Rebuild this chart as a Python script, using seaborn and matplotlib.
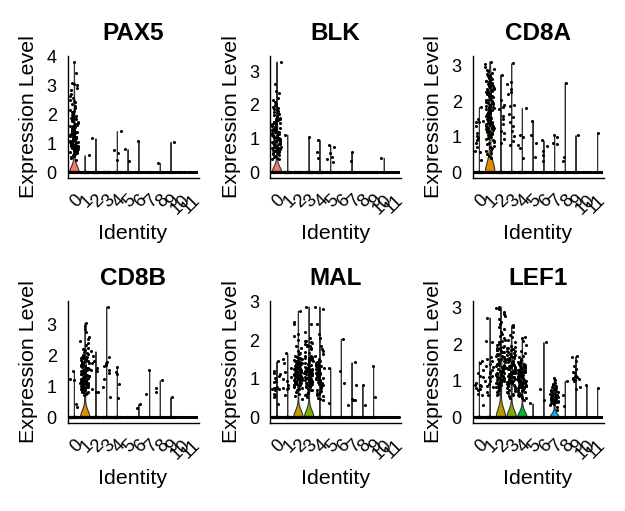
import numpy as np
import pandas as pd
import matplotlib
matplotlib.use("Agg")
import matplotlib.pyplot as plt
import seaborn as sns

np.random.seed(3)

clusters = [str(i) for i in range(12)]
cluster_colors = ["#F8766D", "#DE8C00", "#B79F00", "#7CAE00", "#00BA38", "#00C08B",
                  "#00BFC4", "#00B4F0", "#619CFF", "#C77CFF", "#F564E3", "#FF64B0"]
n_cells = [300, 280, 280, 280, 300, 150, 140, 130, 110, 100, 60, 40]
genes = ["PAX5", "BLK", "CD8A", "CD8B", "MAL", "LEF1"]

# non-zero expression values per cluster (remaining cells of the cluster are 0)
PAX5 = [
    [3.81, 3.40, 3.09, 3.05, 3.00, 2.91, 2.84, 2.70, 2.63, 2.57, 2.50, 2.46, 2.41, 2.36, 2.29, 2.23,
     2.16, 2.12, 2.07, 2.02, 1.97, 1.94,
     1.91, 1.88, 1.86, 1.83, 1.81, 1.78, 1.76, 1.73, 1.71, 1.68, 1.66, 1.63, 1.61, 1.59, 1.57, 1.55,
     1.53, 1.51, 1.49, 1.47, 1.46, 1.44, 1.42, 1.40, 1.38, 1.37, 1.35, 1.33, 1.31, 1.30, 1.28, 1.26,
     1.25, 1.23, 1.21, 1.20, 1.18, 1.17, 1.15, 1.14, 1.12, 1.11, 1.09, 1.08, 1.06, 1.05, 1.03, 1.02,
     1.00, 1.36, 1.22, 1.48, 1.13, 1.29, 1.07,
     0.99, 0.97, 0.96, 0.94, 0.93, 0.91, 0.90, 0.88, 0.86, 0.85, 0.83, 0.81, 0.79, 0.77, 0.75, 0.73,
     0.71, 0.68, 0.66, 0.63, 0.60, 0.57, 0.53, 0.49, 0.42, 0.92, 0.87, 0.82, 0.78, 0.70, 0.64],
    [0.59], [1.18], [], [1.42, 0.78, 0.67, 0.42], [0.80, 0.39], [1.08], [], [0.33], [1.05], [], [],
]
BLK = [
    [3.28, 2.62, 2.40, 2.34, 2.21, 2.15, 2.08, 2.03, 1.99, 1.96, 1.93,
     1.90, 1.87, 1.84, 1.81, 1.78, 1.75, 1.72, 1.70, 1.67, 1.64, 1.62, 1.59, 1.57, 1.54, 1.52, 1.50,
     1.48, 1.45, 1.43, 1.41, 1.39, 1.37, 1.35, 1.33, 1.31, 1.29, 1.27, 1.25, 1.23, 1.21, 1.19, 1.17,
     1.15, 1.13, 1.11, 1.09, 1.07, 1.05, 1.03, 1.01, 1.44, 1.26, 1.34, 1.16,
     0.99, 0.97, 0.95, 0.93, 0.91, 0.89, 0.87, 0.85, 0.83, 0.81, 0.79, 0.77, 0.75, 0.73, 0.71, 0.69,
     0.67, 0.65, 0.63, 0.61, 0.59, 0.57, 0.55, 0.52, 0.49, 0.46, 0.43, 0.41, 0.41, 0.88, 0.76, 0.64,
     0.94, 0.70, 1.58, 1.46, 1.32, 1.20, 1.10, 1.02, 0.98, 0.90, 0.84, 0.74, 0.66],
    [1.12], [], [1.05], [0.97, 0.61, 0.43], [0.81, 0.75, 0.58, 0.46, 0.40, 0.30], [], [0.61, 0.34],
    [], [], [0.43], [],
]
CD8A = [
    [1.84, 1.51, 1.42, 1.30, 1.02, 0.98, 0.83, 0.72, 1.42, 0.58, 1.10, 0.90, 0.60, 1.45, 0.35],
    [3.12, 3.05, 2.98, 2.91, 2.88, 2.84, 2.80, 2.77, 2.74, 2.72, 2.70, 2.67, 2.65, 2.62, 2.60, 2.58,
     2.56, 2.54, 2.52, 2.50, 2.48, 2.46, 2.44, 2.42, 2.40, 2.38, 2.36, 2.34, 2.32, 2.30, 2.28, 2.26,
     2.24, 2.22, 2.20, 2.18, 2.16, 2.14, 2.12, 2.10,
     2.08, 2.05, 2.03, 2.01, 1.98, 1.96, 1.94, 1.92, 1.90, 1.88, 1.86, 1.84, 1.82, 1.80, 1.78, 1.76,
     1.74, 1.72, 1.70, 1.68, 1.66, 1.64, 1.62, 1.60, 1.58, 1.56, 1.54, 1.52, 1.50, 1.48, 1.46, 1.44,
     1.42, 1.40, 1.38, 1.36, 1.34, 1.32, 1.30, 1.28, 1.26, 1.24, 1.22, 1.20, 1.18, 1.16, 1.14, 1.12,
     1.10, 1.08, 1.06, 1.04, 1.02, 1.00,
     0.97, 0.94, 0.91, 0.88, 0.85, 0.82, 0.79, 0.75, 0.72, 0.68, 0.64, 0.60, 0.56, 0.52, 0.47, 0.42,
     2.55, 2.35, 2.25, 1.95, 1.85, 1.75, 1.65, 1.55, 1.45, 1.35, 1.25, 1.15],
    [2.75, 1.84, 1.79, 1.35, 0.83, 1.49, 1.18, 1.11, 1.90, 0.95, 1.60, 2.05],
    [3.07, 2.55, 2.50, 2.25, 2.20, 1.88, 1.65, 1.90, 1.56, 1.42, 1.18, 1.02, 0.89, 0.76, 2.35, 1.30],
    [1.81, 0.41, 1.05, 1.00, 0.76, 0.69],
    [1.46, 0.82, 0.44, 1.06],
    [0.48, 0.75, 0.60, 0.32, 0.90],
    [0.83, 0.79, 1.04, 1.00],
    [2.53, 0.44, 0.32],
    [1.05], [], [1.11],
]
CD8B = [
    [1.50, 1.25, 1.20, 0.34, 0.43],
    [3.05, 2.95, 2.86, 2.75, 2.59, 2.54, 2.48, 2.40, 2.33, 2.26, 2.20, 2.17, 2.12, 2.08,
     2.05, 2.02, 1.99, 1.96, 1.93, 1.90, 1.87, 1.84, 1.81, 1.78, 1.75, 1.72, 1.69, 1.66, 1.63, 1.60,
     1.58, 1.56, 1.54, 1.52, 1.50, 1.48, 1.46, 1.44, 1.42, 1.40, 1.38, 1.36, 1.34, 1.32, 1.30, 1.28,
     1.26, 1.24, 1.22, 1.20, 1.18, 1.16, 1.14, 1.12, 1.10, 1.08, 1.06, 1.04, 1.02, 1.00,
     0.98, 0.95, 0.92, 0.89, 0.86, 0.83, 0.80, 0.77, 0.72, 0.96, 0.90, 0.84,
     1.95, 1.85, 1.75, 1.65, 1.55, 1.45, 1.35, 1.25, 1.15, 1.05, 1.57, 1.33, 1.21, 1.09,
     1.97, 1.91, 1.83, 1.77, 1.71, 1.61, 1.51, 1.41, 1.31, 1.27, 1.17, 1.11, 1.03, 1.49, 1.39, 1.29,
     1.19, 1.13, 1.07, 1.01, 0.99, 0.93, 0.87, 0.81],
    [2.14, 2.00, 0.93, 0.83, 0.83, 1.60, 1.50, 1.55, 1.82, 1.75],
    [3.59, 1.95, 1.71, 1.76, 1.65, 1.80, 1.44, 1.25, 1.55, 0.97, 0.66],
    [1.63, 1.47, 1.41, 1.07, 0.63],
    [], [0.31, 0.43], [1.52, 0.75], [1.20, 0.95, 0.83], [0.66], [], [],
]
MAL = [
    [0.76, 0.74, 0.78, 0.70, 1.03, 1.13, 1.08, 0.94, 1.14, 1.21, 1.45, 0.61, 0.54, 0.35, 0.57, 0.74,
     0.76, 0.91],
    [1.66, 1.51, 1.41, 1.28, 1.17, 1.05, 0.83, 0.74, 0.76, 0.76, 1.00, 0.59, 0.95],
    [2.76, 2.46, 2.42, 2.16, 2.11, 2.00, 1.86, 1.80, 1.73, 1.68, 1.64, 1.60,
     1.57, 1.55, 1.53, 1.51, 1.49, 1.47, 1.45, 1.43, 1.41, 1.39, 1.37, 1.35, 1.33, 1.31, 1.29, 1.27,
     1.25, 1.23, 1.21, 1.19, 1.17, 1.15, 1.13, 1.11, 1.09, 1.07, 1.05, 1.03, 1.01, 0.99, 0.97, 0.95,
     0.93, 0.91, 0.89, 0.87, 0.85, 0.83, 0.81, 0.79,
     0.77, 0.74, 0.70, 0.66, 0.61, 0.55, 0.48, 1.36, 1.24, 1.12, 1.00, 0.88, 1.30, 1.18, 1.06, 0.94,
     1.42, 1.50, 1.22, 1.10, 1.34, 1.26, 1.16, 1.04, 0.96, 0.86, 1.20, 1.14, 1.02, 0.92, 1.28, 0.98,
     1.08, 1.32, 1.38, 0.90, 0.84, 1.46],
    [2.87, 2.42, 1.99, 1.97, 1.94, 1.92, 1.90, 1.88, 1.86, 1.84, 1.80, 1.77, 2.05, 2.20,
     1.60, 1.58, 1.56, 1.54, 1.52, 1.50, 1.48, 1.46, 1.43, 1.57, 1.53, 1.49, 1.70, 1.66,
     1.30, 1.28, 1.26, 1.24, 1.22, 1.20, 1.18, 1.16, 1.14, 1.12, 1.10, 1.08, 1.06, 1.04, 1.02, 1.00,
     0.98, 0.96, 0.94, 0.92, 0.90, 0.88, 0.86, 0.84, 0.82, 0.80, 0.78, 1.27, 1.21, 1.15, 1.09, 1.03,
     0.97, 0.91, 0.85, 1.25, 1.13, 1.01, 0.89, 1.19, 1.07, 0.95, 1.35, 1.40,
     0.74, 0.70, 0.66, 0.61, 0.57, 0.52, 0.72, 0.64,
     1.11, 1.05, 0.99, 0.93, 1.17, 1.23, 0.87, 1.29, 1.33, 1.38],
    [2.87, 2.80, 2.42, 2.16, 2.05, 1.86, 1.77, 1.73, 1.64, 1.58, 1.52,
     1.48, 1.44, 1.40, 1.36, 1.32, 1.28, 1.24, 1.20, 1.16, 1.12, 1.08, 1.04, 1.00, 0.96, 0.92, 0.88,
     0.84, 0.80, 0.76, 0.72, 1.46, 1.38, 1.30, 1.22, 1.14, 1.06, 0.98, 0.90, 0.82, 1.34, 1.26, 1.18,
     1.10, 1.02, 0.94, 0.86, 1.42, 1.15, 1.05, 1.25,
     0.68, 0.64, 0.61, 0.56, 0.51, 0.48, 0.44, 0.66, 0.59,
     1.12, 1.09, 0.99, 1.35, 1.29, 1.03],
    [1.28, 0.37], [2.03, 1.19, 0.90], [1.43, 0.85, 0.44, 0.46, 0.47, 0.31], [0.83, 0.31],
    [1.33, 0.52], [], [],
]
LEF1 = [
    [1.53, 1.48, 1.20, 1.10, 0.94, 0.88, 0.78, 0.74, 0.80, 0.65, 0.62, 0.33, 1.14, 1.30, 0.86, 0.89],
    [2.72, 2.05, 2.08, 1.64, 1.60, 1.37, 1.39, 1.25, 1.21, 1.10, 1.08, 0.99, 0.92, 0.87, 0.83, 0.60,
     1.12, 1.45, 1.30, 1.00, 0.70, 1.55],
    [3.02, 2.97, 2.95, 2.86, 2.82, 2.77, 2.68, 2.59, 2.54, 2.45, 2.40, 2.33, 2.27, 2.21, 2.16, 2.12,
     2.09, 2.05, 2.01, 1.98, 1.95, 1.92, 1.89, 1.86, 1.83, 1.80, 1.77, 1.74, 1.71, 1.68, 1.65, 1.62,
     1.59, 1.56, 1.53, 1.50, 1.47, 1.44, 1.41, 1.38, 1.35, 1.32, 1.29, 1.26, 1.23, 1.20, 1.17, 1.14,
     1.11, 1.08, 1.05, 1.02, 0.99, 0.96, 0.93, 0.90,
     1.25, 1.22, 1.18, 1.15, 1.12, 1.09, 1.06, 1.03, 1.00, 0.97, 0.94, 1.28, 1.31, 1.34, 1.37, 1.40,
     1.43, 1.46, 1.90, 1.84, 1.78, 1.72, 1.66, 1.60, 1.54, 1.07, 1.13, 1.19, 1.01, 0.95,
     0.87, 0.84, 0.80, 0.77, 0.73, 0.69, 0.64, 0.60, 0.82, 0.75, 0.88, 0.91],
    [2.51, 2.45, 2.32, 2.25, 2.18, 2.10, 2.05,
     1.95, 1.92, 1.89, 1.86, 1.83, 1.80, 1.77, 1.74, 1.71, 1.68, 1.65, 1.62, 1.59, 1.56, 1.53, 1.50,
     1.47, 1.44, 1.41, 1.38, 1.35, 1.32, 1.29, 1.26, 1.23, 1.20, 1.17, 1.14, 1.11, 1.08, 1.05, 1.02,
     0.99, 0.96, 0.93, 0.90, 0.87, 0.84, 0.81, 0.78,
     1.88, 1.82, 1.76, 1.70, 1.64, 1.58, 1.52, 1.46, 1.40, 1.34, 1.28, 1.22, 1.16, 1.10, 1.04, 0.98,
     0.92, 0.86, 1.25, 1.13, 1.01, 1.37, 1.49, 1.61, 1.19, 1.07, 0.95, 0.89, 1.31, 1.43,
     0.74, 0.69, 0.64, 0.58, 0.52, 0.71, 0.66, 0.61],
    [2.18, 2.15, 2.09, 1.96, 1.82, 1.75,
     1.68, 1.64, 1.60, 1.56, 1.52, 1.48, 1.44, 1.40, 1.36, 1.32, 1.28, 1.24, 1.20, 1.16, 1.12, 1.08,
     1.04, 1.00, 0.96, 0.92, 0.88, 0.84, 0.80, 0.76, 0.72, 0.68, 0.64, 0.60, 0.56, 1.50, 1.42, 1.34,
     1.26, 1.18, 1.10, 1.02, 0.94, 0.86, 0.78, 0.70, 1.46, 1.38, 1.30, 1.22, 1.14, 1.06, 0.98, 0.90,
     0.82, 0.74, 1.27, 1.19, 1.11, 1.03, 0.95, 0.87, 0.99, 1.07, 1.15, 1.23,
     0.52, 0.47, 0.58, 0.66, 0.62, 0.54,
     1.05, 0.97, 0.91, 1.13, 1.21, 1.29, 1.37, 0.85, 0.79, 1.01, 1.09, 1.17, 0.93, 1.25, 0.89, 1.33,
     1.41, 0.83, 1.45],
    [0.38],
    [2.05, 0.78, 0.47],
    [1.08, 1.01, 0.92, 0.88, 0.83, 0.80, 0.77, 0.74, 0.71, 0.68, 0.65, 0.62, 0.60, 0.58, 0.55, 0.53,
     0.50, 0.48, 0.46, 0.44, 0.42, 0.40, 0.38, 0.36, 0.33, 0.29, 0.20, 0.85, 0.69, 0.57, 0.51, 0.45,
     0.63, 0.75, 0.93, 0.56, 0.49, 0.41, 0.66, 0.72],
    [0.99, 0.60, 0.32],
    [1.67, 1.64, 1.55, 1.41, 1.32, 1.25, 1.14, 1.12, 1.08, 1.06, 1.04, 1.01, 0.99, 0.83, 0.77, 1.10,
     1.20],
    [0.88], [0.80],
]
gene_values = [PAX5, BLK, CD8A, CD8B, MAL, LEF1]


def nrd0(x):
    """R's default bandwidth (bw.nrd0); Seurat's tiny noise when IQR is 0."""
    hi = np.std(x, ddof=1)
    q75, q25 = np.percentile(x, [75, 25])
    lo = min(hi, (q75 - q25) / 1.34)
    if lo <= 0:
        lo = 1e-5
    return 0.9 * lo * len(x) ** (-0.2)


sns.set_style("white")
plt.rcParams["font.family"] = ["Liberation Sans", "DejaVu Sans"]
plt.rcParams["text.color"] = "black"
plt.rcParams["axes.labelcolor"] = "black"
plt.rcParams["xtick.color"] = "black"
plt.rcParams["ytick.color"] = "black"

FW, FH = 625, 511
fig = plt.figure(figsize=(FW / 100, FH / 100), dpi=100)
lefts = [67.5, 270.0, 472.5]
tops = [56, 301]
AW, AH = 131, 122

for i, (gene, vals) in enumerate(zip(genes, gene_values)):
    r, c = divmod(i, 3)
    ax = fig.add_axes([lefts[c] / FW, 1 - (tops[r] + AH) / FH, AW / FW, AH / FH])
    recs = []
    for k, lab in enumerate(clusters):
        expr = list(vals[k]) + [0.0] * (n_cells[k] - len(vals[k]))
        recs += [(lab, v) for v in expr]
    df = pd.DataFrame(recs, columns=["cluster", "expr"])

    for lab in clusters:
        sub = df[df["cluster"] == lab]
        x = sub["expr"].to_numpy()
        if np.std(x) == 0:
            continue
        factor = nrd0(x) / np.std(x, ddof=1)
        sns.violinplot(data=sub, x="cluster", y="expr", hue="cluster", order=clusters,
                       hue_order=clusters, palette=cluster_colors, bw_method=factor, cut=0,
                       density_norm="width", width=0.9, inner=None, linewidth=0.8,
                       linecolor="#333333", saturation=1, legend=False, ax=ax)
    sns.stripplot(data=df, x="cluster", y="expr", order=clusters, color="black", jitter=0.4,
                  size=2.2, linewidth=0, ax=ax, zorder=3)

    ymax = df["expr"].max()
    ax.set_ylim(-0.05 * ymax, 1.05 * ymax)
    ax.set_xlim(-0.6, len(clusters) - 0.4)
    ax.set_yticks(np.arange(0, int(np.floor(1.05 * ymax)) + 1))
    ax.set_xticks(range(len(clusters)))
    ax.set_xticklabels(clusters, rotation=45, ha="right", va="top", rotation_mode="anchor")
    for s in ["top", "right"]:
        ax.spines[s].set_visible(False)
    for s in ["left", "bottom"]:
        ax.spines[s].set_color("black")
        ax.spines[s].set_linewidth(1.0)
    ax.tick_params(axis="both", length=3.8, width=1.0, color="black", labelsize=13,
                   labelcolor="black")
    ax.tick_params(axis="y", pad=4)
    ax.tick_params(axis="x", pad=6)
    ax.set_title(gene, fontsize=17.5, fontweight="bold", pad=11.5)
    ax.set_xlabel("Identity", fontsize=15.4)
    ax.set_ylabel("Expression Level", fontsize=15.4)
    ax.xaxis.set_label_coords(0.5, -0.375)
    ax.yaxis.set_label_coords(-0.224, 0.5)
    ax.grid(False)

fig.savefig("out.png", dpi=100, facecolor="white")
